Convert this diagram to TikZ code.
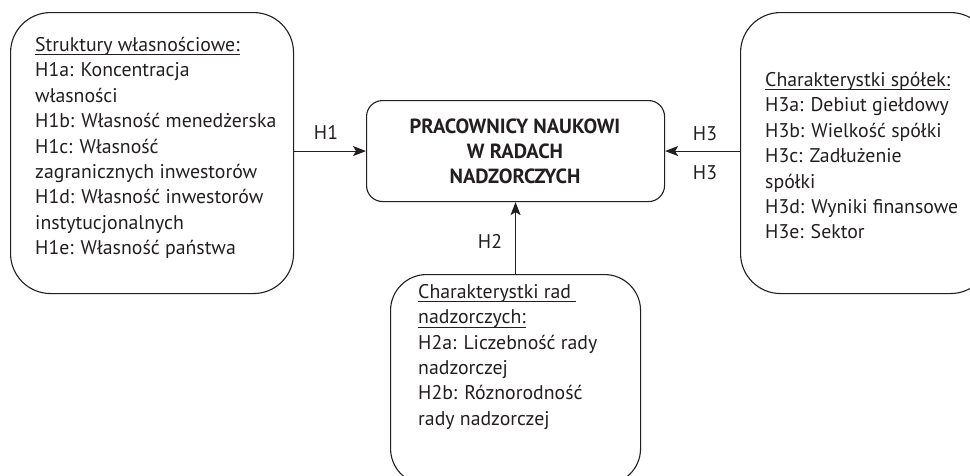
\documentclass[tikz,border=0pt]{standalone}
\usepackage{fontspec}
\setmainfont{PT Sans}
\usetikzlibrary{arrows.meta}
\definecolor{ink}{HTML}{231F20}
\newcommand\headline[1]{\setbox0\hbox{#1}\rlap{\rule[-3.8pt]{\wd0}{0.8pt}}\box0}
\tikzset{
  panel/.style={draw=ink, line width=1.1pt, rounded corners=40pt, inner sep=0pt, anchor=north west},
  hubbox/.style={draw=ink, line width=1.1pt, rounded corners=16pt, inner sep=0pt, anchor=north west},
  txt/.style={text=ink, align=left, anchor=north west, inner sep=0pt,
    font=\fontsize{19.8}{25.4}\selectfont},
  hubtxt/.style={text=ink, align=center, inner sep=0pt,
    font=\fontsize{20.5}{25}\selectfont\bfseries},
  lbl/.style={text=ink, inner sep=0pt, font=\fontsize{19.8}{22}\selectfont},
  link/.style={draw=ink, line width=1.1pt, -{Stealth[length=13pt,width=10pt,inset=3pt]}}
}
\begin{document}
\begin{tikzpicture}[x=1pt,y=-1pt]
\clip (0,0) rectangle (970,475);
\fill[white] (0,0) rectangle (970,475);

% outer panels
\node[panel, minimum width=283pt, minimum height=281pt] (own) at (10,12) {};
\node[panel, minimum width=250pt, minimum height=281pt] (firm) at (740,12) {};
\node[panel, rounded corners=36pt, minimum width=250pt, minimum height=210pt] (board) at (390,274) {};

% central box
\node[hubbox, minimum width=298pt, minimum height=101pt] (hub) at (366,100) {};
\node[hubtxt] (hubtext) at (515,151) {PRACOWNICY NAUKOWI\\W RADACH\\NADZORCZYCH};

% panel texts
\node[txt] (owntext) at (35,37) {\headline{Struktury własnościowe:}\\
H1a: Koncentracja\\
własności\\
H1b: Własność menedżerska\\
H1c: Własność\\
zagranicznych inwestorów\\
H1d: Własność inwestorów\\
instytucjonalnych\\
H1e: Własność państwa};

\node[txt] (firmtext) at (765,72) {\headline{Charakterystki spółek:}\\
H3a: Debiut giełdowy\\
H3b: Wielkość spółki\\
H3c: Zadłużenie\\
spółki\\
H3d: Wyniki finansowe\\
H3e: Sektor};

\node[txt] (boardtext) at (418,284) {\headline{Charakterystki rad\ }\\
\headline{nadzorczych:}\\
H2a: Liczebność rady\\
nadzorczej\\
H2b: Róznorodność\\
rady nadzorczej};

% connectors
\draw[link] (own.east |- hub.west) -- (hub.west);
\draw[link] (firm.west |- hub.east) -- (hub.east);
\draw[link] (board.north) -- (hub.south);

% connector labels
\node[lbl] (h1) at (326,132) {H1};
\node[lbl] (h3a) at (705,134) {H3};
\node[lbl] (h3b) at (705,173) {H3};
\node[lbl] (h2) at (490,241) {H2};
\end{tikzpicture}
\end{document}
